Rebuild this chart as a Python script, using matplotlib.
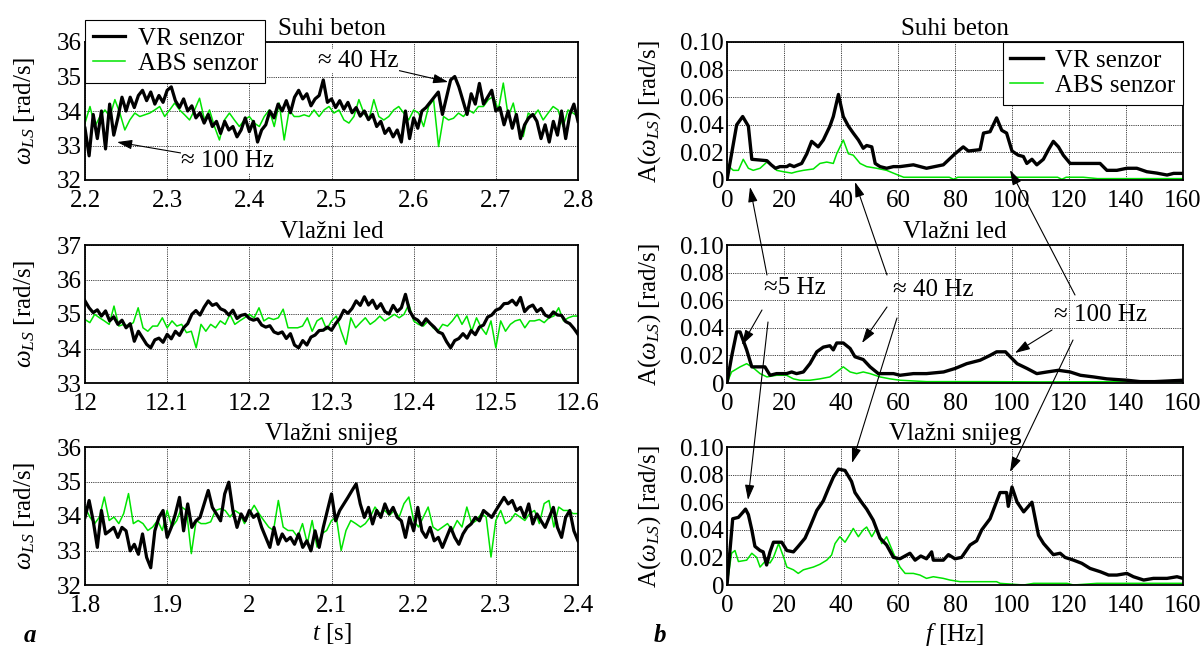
import numpy as np
import matplotlib
matplotlib.use("Agg")
import matplotlib.pyplot as plt
from matplotlib.patches import FancyArrowPatch
from matplotlib.ticker import FuncFormatter

# ---- time signals (omega_LS, rad/s), VR sampled every 5 ms over 0.6 s ----
vr_beton = [33.5, 32.7, 33.9, 33.2, 34.0, 32.9, 34.2, 33.3, 33.8, 34.4,
            34.0, 34.4, 34.1, 34.45, 34.6, 34.3, 34.55, 34.2, 34.45, 34.25,
            34.6, 34.7, 34.3, 34.1, 34.35, 34.0, 34.15, 33.8, 33.95, 33.65,
            33.9, 33.55, 33.7, 33.35, 33.7, 33.45, 33.55, 33.25, 33.45, 33.8,
            33.4, 33.7, 33.1, 33.45, 33.6, 34.0, 33.8, 34.2, 34.0, 34.3,
            33.95, 34.4, 34.6, 34.35, 34.5, 34.15, 34.35, 34.45, 34.9, 34.25,
            34.35, 34.1, 34.3, 34.05, 34.25, 33.95, 34.1, 33.85, 34.0, 33.75,
            33.9, 33.55, 33.7, 33.35, 33.5, 33.25, 33.45, 33.1, 34.0, 33.2,
            33.8, 33.5, 34.0, 34.1, 34.25, 34.4, 34.55, 33.9, 34.4, 34.9,
            35.0, 34.7, 34.3, 33.9, 34.5, 34.2, 34.8, 34.2, 34.4, 34.6,
            34.0, 34.1, 33.6, 34.0, 33.5, 33.9, 33.2, 33.6, 33.8, 33.9,
            33.7, 33.2, 33.6, 33.1, 33.7, 33.3, 34.0, 33.2, 33.9, 34.2,
            33.7]
abs_beton = [33.65, 34.13, 33.55, 33.84, 34.03, 33.84, 34.33, 33.94, 33.45, 33.74,
             33.94, 33.84, 33.89, 33.94, 34.03, 34.13, 33.84, 34.03, 34.23, 34.03,
             33.89, 33.74, 34.03, 34.37, 33.74, 34.03, 33.55, 33.16, 33.74, 33.94,
             33.74, 33.55, 33.74, 33.84, 33.65, 33.55, 33.84, 34.03, 33.55, 34.23,
             33.16, 34.03, 33.84, 33.84, 33.89, 33.84, 34.03, 33.84, 34.03, 34.13,
             33.94, 34.03, 33.74, 33.65, 33.84, 34.33, 33.94, 33.74, 34.33, 33.84,
             33.74, 33.84, 34.03, 34.13, 33.94, 33.74, 34.03, 33.94, 33.55, 34.13,
             34.33, 32.97, 33.84, 33.74, 33.79, 33.94, 33.84, 34.03, 33.94, 34.13,
             34.13, 34.33, 34.42, 34.03, 34.81, 33.84, 34.23, 33.55, 33.26, 33.94,
             33.84, 34.03, 33.74, 33.94, 34.13, 34.03, 33.55, 34.03, 33.94, 33.84]

vr_led = [35.38, 35.18, 35.04, 35.12, 34.94, 35.09, 34.8, 34.92, 34.7, 34.82,
          34.6, 34.72, 34.21, 34.5, 34.31, 34.12, 34.02, 34.25, 34.3, 34.18,
          34.41, 34.28, 34.5, 34.38, 34.6, 34.72, 34.99, 35.1, 34.97, 35.2,
          35.38, 35.25, 35.3, 35.15, 35.1, 34.97, 35.11, 34.87, 34.96, 34.99,
          34.87, 34.82, 34.86, 34.68, 34.62, 34.66, 34.48, 34.43, 34.48, 34.29,
          34.43, 34.1, 34.02, 34.23, 34.1, 34.33, 34.39, 34.52, 34.53, 34.62,
          34.53, 34.72, 34.87, 35.11, 35.02, 35.16, 35.38, 35.25, 35.5, 35.26,
          35.4, 35.16, 35.3, 35.07, 35.0, 35.25, 35.07, 35.18, 35.57, 35.09,
          34.89, 34.82, 34.68, 34.86, 34.73, 34.62, 34.48, 34.43, 34.2, 34.02,
          34.23, 34.29, 34.43, 34.3, 34.52, 34.4, 34.62, 34.68, 34.91, 34.97,
          35.11, 35.16, 35.3, 35.31, 35.4, 35.26, 35.48, 35.07, 35.2, 35.26,
          35.07, 35.16, 34.97, 34.91, 35.06, 34.97, 34.96, 34.78, 34.72, 34.58,
          34.41]
abs_led = [34.84, 34.75, 34.99, 34.89, 34.8, 34.7, 35.23, 34.65, 34.7, 34.65,
           34.75, 35.18, 34.6, 34.5, 34.65, 34.65, 34.89, 34.6, 34.8, 34.65,
           34.7, 34.46, 34.5, 34.02, 34.7, 34.5, 34.7, 34.6, 34.8, 34.7,
           34.99, 34.7, 34.8, 34.89, 34.99, 34.89, 35.18, 34.8, 34.89, 34.84,
           34.89, 35.14, 34.6, 34.6, 34.6, 34.65, 34.89, 34.5, 34.8, 34.89,
           34.55, 34.8, 34.94, 34.5, 34.12, 34.89, 34.6, 34.75, 34.89, 34.7,
           34.8, 34.94, 34.8, 34.89, 34.99, 34.89, 34.99, 35.28, 34.8, 34.7,
           34.65, 34.8, 34.6, 34.5, 34.7, 34.65, 34.8, 34.99, 34.7, 34.94,
           34.5, 34.89, 34.6, 34.41, 34.8, 34.02, 34.8, 34.5, 34.7, 34.8,
           34.84, 34.6, 34.8, 34.8, 34.84, 34.75, 34.89, 34.94, 35.18, 34.8,
           34.89, 34.94, 34.94]

vr_snijeg = [33.96, 34.45, 33.86, 33.09, 34.16, 33.48, 33.57, 33.67, 33.38, 33.67,
             33.57, 32.99, 33.18, 32.89, 33.48, 32.8, 32.5, 33.57, 33.96, 34.16,
             33.38, 33.67, 34.06, 34.54, 33.57, 34.35, 33.67, 33.86, 33.96, 34.35,
             34.74, 34.25, 34.06, 33.86, 34.64, 34.98, 34.16, 33.67, 34.06, 33.86,
             34.16, 33.96, 34.06, 33.67, 33.38, 33.09, 33.67, 33.18, 33.48, 33.28,
             33.38, 33.18, 33.48, 33.09, 33.28, 32.99, 33.57, 33.09, 33.67, 34.16,
             34.64, 33.86, 34.16, 34.35, 34.54, 34.74, 34.93, 34.35, 33.96, 34.25,
             33.77, 34.16, 33.96, 34.35, 34.06, 34.25, 33.96, 33.86, 33.38, 33.96,
             33.57, 34.25, 33.57, 33.38, 33.67, 33.28, 33.38, 33.09, 33.38, 33.67,
             33.38, 33.18, 33.48, 33.67, 33.77, 33.96, 33.86, 34.16, 34.06, 33.96,
             34.16, 34.35, 34.54, 34.35, 34.45, 34.16, 34.25, 33.96, 34.35, 33.77,
             34.06, 33.86, 33.67, 33.96, 34.25, 33.67, 33.38, 33.96, 34.16, 33.57,
             33.28]
abs_snijeg = [34.26, 33.97, 33.78, 33.97, 34.55, 33.87, 33.97, 33.78, 34.07, 34.65,
              33.78, 33.87, 33.78, 33.58, 33.68, 33.87, 33.58, 34.16, 33.68, 33.87,
              34.26, 34.16, 32.91, 33.87, 33.78, 33.78, 33.83, 34.16, 34.21, 34.16,
              33.97, 34.16, 34.07, 33.78, 34.07, 34.31, 34.07, 33.87, 33.68, 33.58,
              34.45, 33.68, 33.58, 33.58, 33.39, 33.78, 33.2, 33.87, 33.1, 33.49,
              33.58, 33.87, 33.97, 33.0, 33.58, 33.87, 33.78, 33.68, 33.78, 33.97,
              34.26, 34.07, 34.16, 34.02, 34.16, 33.97, 34.36, 34.55, 33.87, 33.68,
              33.97, 34.26, 33.68, 33.58, 33.68, 33.78, 33.58, 33.87, 33.68, 34.26,
              33.78, 33.87, 34.07, 33.97, 32.81, 33.87, 34.16, 33.78, 33.87, 34.07,
              33.97, 33.87, 34.07, 34.16, 33.78, 34.36, 34.45, 33.68, 34.26, 34.16,
              34.16, 34.07, 34.07]

# ---- amplitude spectra A(omega_LS) [rad/s] vs f [Hz] ----
f_vr_beton = [0, 3.4, 5.5, 7.5, 8.7, 14, 15.5, 17, 18.6, 21, 22, 23.5, 25, 26.2, 28,
              29.7, 32, 33.8, 36.1, 37.3, 39.1, 40.8, 42.6, 44.3, 46.1, 47.8, 49, 50.8,
              52, 53.7, 56, 58.4, 60.7, 65.4, 70, 75.9, 80, 82.9, 84.7, 88.8, 90, 92.3,
              94.6, 96.4, 98.1, 100, 102.2, 104, 105.2, 107, 108.7, 111, 112.8, 114.5,
              116.3, 118, 120.4, 122.7, 125, 127.4, 130.9, 133.3, 136.8, 140.3, 143.8,
              147.3, 150.8, 154.4, 156.7, 160]
a_vr_beton = [0, 0.040, 0.046, 0.039, 0.015, 0.014, 0.011, 0.0085, 0.0097, 0.0097,
              0.011, 0.0097, 0.011, 0.012, 0.019, 0.028, 0.024, 0.029, 0.039, 0.046,
              0.062, 0.046, 0.039, 0.034, 0.029, 0.023, 0.025, 0.024, 0.012, 0.0097,
              0.0085, 0.0097, 0.0097, 0.011, 0.0085, 0.011, 0.019, 0.024, 0.021, 0.022,
              0.034, 0.035, 0.045, 0.036, 0.034, 0.021, 0.018, 0.017, 0.012, 0.015,
              0.011, 0.015, 0.022, 0.028, 0.024, 0.018, 0.012, 0.012, 0.012, 0.012,
              0.012, 0.007, 0.007, 0.0085, 0.0085, 0.006, 0.005, 0.0036, 0.0048, 0.0048]
f_abs_beton = [0, 2.2, 4, 5.7, 7.5, 9.2, 11.6, 14, 15.7, 17.4, 19.8, 22.7, 24.4, 26.8,
               30.3, 32.6, 35, 37.3, 38.5, 40.8, 42.6, 44.3, 46.7, 49, 52.5, 56, 60, 62,
               70, 78, 79.5, 81, 90, 100, 110, 116, 117.5, 119, 125, 130, 135, 145, 160]
a_abs_beton = [0.011, 0.007, 0.007, 0.015, 0.0085, 0.007, 0.0085, 0.013, 0.011, 0.007,
               0.006, 0.005, 0.006, 0.007, 0.008, 0.012, 0.013, 0.012, 0.019, 0.029,
               0.019, 0.018, 0.012, 0.0097, 0.0085, 0.007, 0.0036, 0.002, 0.002, 0.002,
               0.0005, 0.002, 0.002, 0.002, 0.002, 0.002, 0.0005, 0.002, 0.002, 0.001,
               0.001, 0.001, 0.001]

f_vr_led = [0, 1.6, 3.4, 4.6, 6.9, 8.7, 11.6, 13.3, 15.1, 17.4, 20.9, 22.7, 24.4, 26.8,
            29.1, 31.5, 33.8, 36.1, 37.3, 38.5, 40.8, 43.2, 44.9, 47.8, 50.2, 53.1, 56,
            58.4, 60.7, 65.4, 70, 76, 80, 84.1, 88.8, 92.3, 94.6, 97.7, 99.4, 101.8,
            105.3, 108.7, 112.3, 116.3, 120.4, 124, 128.6, 133.3, 140.3, 145, 150, 155, 160]
a_vr_led = [0, 0.019, 0.037, 0.037, 0.024, 0.0117, 0.0117, 0.0117, 0.0056, 0.0068,
            0.0068, 0.008, 0.0068, 0.008, 0.014, 0.0226, 0.026, 0.027, 0.024, 0.029,
            0.029, 0.025, 0.019, 0.017, 0.0117, 0.0068, 0.0068, 0.0068, 0.0056, 0.0068,
            0.0068, 0.008, 0.0105, 0.014, 0.0165, 0.020, 0.0226, 0.0226, 0.019, 0.014,
            0.0105, 0.0068, 0.008, 0.0092, 0.008, 0.0056, 0.0044, 0.003, 0.002, 0.001,
            0.001, 0.0015, 0.002]
f_abs_led = [0, 1.6, 4.6, 6.9, 9.2, 11.6, 14, 17.4, 20.9, 23.3, 25.6, 29.1, 32.6, 36.1,
             38.5, 40.8, 43.2, 45.5, 47.8, 50.2, 53.7, 57.2, 60.7, 70, 90, 110, 140, 160]
a_abs_led = [0, 0.008, 0.0117, 0.014, 0.011, 0.0068, 0.0044, 0.0056, 0.0056, 0.003,
             0.002, 0.002, 0.003, 0.0044, 0.008, 0.0117, 0.008, 0.0068, 0.008, 0.0068,
             0.0044, 0.003, 0.002, 0.001, 0.001, 0.0008, 0.001, 0.001]

f_vr_snijeg = [0, 2, 4, 5.7, 6.5, 7.5, 8.7, 9.8, 11.6, 12.7, 13.9, 15.1, 16.3, 19.2, 21,
               23.3, 25, 27.4, 29.1, 31.5, 33.8, 35.6, 37.3, 39.1, 41.4, 43.7, 44.9, 47.2,
               49, 51.3, 53.7, 56, 58.4, 60.7, 64.2, 66, 68, 70, 71.8, 72.4, 75.9, 77.7,
               80, 82.3, 85.3, 87.6, 89.4, 92.3, 95.8, 98.1, 98.7, 100, 101.8, 104.1, 107,
               109.3, 111.1, 114.5, 116.9, 118.6, 121.6, 124.5, 127.4, 131, 133.9, 136.8,
               140.3, 142.6, 146.2, 149.6, 154.4, 157.9, 160]
a_vr_snijeg = [0, 0.048, 0.049, 0.053, 0.055, 0.051, 0.04, 0.028, 0.025, 0.024,
               0.0145, 0.024, 0.031, 0.031, 0.025, 0.024, 0.028, 0.034, 0.042, 0.054,
               0.061, 0.070, 0.078, 0.084, 0.083, 0.075, 0.067, 0.060, 0.055, 0.047,
               0.034, 0.029, 0.020, 0.019, 0.023, 0.018, 0.021, 0.019, 0.024, 0.018,
               0.018, 0.022, 0.019, 0.020, 0.029, 0.032, 0.040, 0.048, 0.067, 0.067,
               0.057, 0.071, 0.060, 0.053, 0.060, 0.036, 0.030, 0.022, 0.023, 0.020,
               0.018, 0.0157, 0.012, 0.0096, 0.0072, 0.0072, 0.0084, 0.006, 0.0036,
               0.0048, 0.0048, 0.006, 0.0048]
f_abs_snijeg = [0, 1.6, 2.8, 4, 6.9, 8.7, 10.4, 11.6, 13.3, 15.1, 16.3, 18.1, 19.9, 21,
                23.3, 25, 26.8, 30.3, 32.6, 35, 36.7, 37.9, 39.6, 41.4, 43.2, 44.3, 46.1,
                47.8, 49, 50.8, 52.5, 54.3, 56, 58.4, 60.7, 62.5, 65.4, 67.7, 70, 72.4,
                75.9, 78.2, 81.8, 94.6, 95.8, 104.1, 107.6, 119.3, 121.6, 129.8, 142.6, 160]
a_abs_snijeg = [0, 0.023, 0.025, 0.017, 0.018, 0.023, 0.02, 0.013, 0.017, 0.016,
                0.02, 0.030, 0.02, 0.013, 0.011, 0.0084, 0.011, 0.013, 0.015, 0.018,
                0.0217, 0.030, 0.035, 0.031, 0.037, 0.041, 0.035, 0.040, 0.042, 0.035,
                0.041, 0.030, 0.035, 0.023, 0.013, 0.0084, 0.0084, 0.0072, 0.0048, 0.006,
                0.0048, 0.0036, 0.0024, 0.0024, 0.0012, 0.0, 0.0012, 0.0012, 0.0, 0.0012,
                0.0012, 0.0012]

titles = ["Suhi beton", "Vlažni led", "Vlažni snijeg"]
t_starts = [2.2, 12.0, 1.8]
t_ticks = [[2.2, 2.3, 2.4, 2.5, 2.6, 2.7, 2.8],
           [12, 12.1, 12.2, 12.3, 12.4, 12.5, 12.6],
           [1.8, 1.9, 2, 2.1, 2.2, 2.3, 2.4]]
w_ylims = [(32, 36), (33, 37), (32, 36)]
f_ticks = [0, 20, 40, 60, 80, 100, 120, 140, 160]
a_ticks = [0, 0.02, 0.04, 0.06, 0.08, 0.10]

GREEN = "#00e400"
FS = 18

plt.rcParams["font.family"] = ["Liberation Serif", "DejaVu Serif"]
plt.rcParams["mathtext.fontset"] = "custom"
plt.rcParams["mathtext.rm"] = "Liberation Serif"
plt.rcParams["mathtext.it"] = "Liberation Serif:italic"

W, H = 1202, 647
fig = plt.figure(figsize=(W / 100, H / 100), dpi=100)


def add_ax(x0, y0, x1, y1):
    return fig.add_axes([x0 / W, 1 - y1 / H, (x1 - x0) / W, (y1 - y0) / H])


def style(ax):
    ax.grid(True, color="k", ls=(0, (1, 1.2)), lw=0.6)
    ax.tick_params(length=0, labelsize=FS)
    ax.tick_params(axis="x", pad=7)
    ax.tick_params(axis="y", pad=2)
    for s in ax.spines.values():
        s.set_linewidth(1.3)


rows = [(42, 180), (245, 383), (447, 585)]
vr_t = [vr_beton, vr_led, vr_snijeg]
abs_t = [abs_beton, abs_led, abs_snijeg]
spec = [(f_vr_beton, a_vr_beton, f_abs_beton, a_abs_beton),
        (f_vr_led, a_vr_led, f_abs_led, a_abs_led),
        (f_vr_snijeg, a_vr_snijeg, f_abs_snijeg, a_abs_snijeg)]

left_axes, right_axes = [], []
for i, (y0, y1) in enumerate(rows):
    # time domain
    ax = add_ax(85, y0, 578, y1)
    t0 = t_starts[i]
    ax.plot(np.linspace(t0, t0 + 0.6, len(abs_t[i])), abs_t[i], color=GREEN, lw=1.1,
            label="ABS senzor", zorder=2)
    ax.plot(np.linspace(t0, t0 + 0.6, len(vr_t[i])), vr_t[i], color="k", lw=2.3,
            label="VR senzor", zorder=3)
    ax.set_xlim(t0, t0 + 0.6)
    ax.set_ylim(*w_ylims[i])
    ax.set_xticks(t_ticks[i])
    ax.set_yticks(range(w_ylims[i][0], w_ylims[i][1] + 1))
    ax.xaxis.set_major_formatter(FuncFormatter(lambda v, _: "%g" % round(v, 2)))
    ax.set_ylabel(r"$\omega_{LS}$ [rad/s]", fontsize=FS)
    ax.yaxis.set_label_coords(-0.098, 0.5)
    ax.set_title(titles[i], fontsize=FS, pad=5)
    style(ax)
    left_axes.append(ax)

    # spectra
    bx = add_ax(727, y0, 1183, y1)
    fv, av, fa, aa = spec[i]
    bx.plot(fa, aa, color=GREEN, lw=1.1, label="ABS senzor", zorder=2)
    bx.plot(fv, av, color="k", lw=2.4, label="VR senzor", zorder=3)
    bx.set_xlim(0, 160)
    bx.set_ylim(0, 0.1)
    bx.set_xticks(f_ticks)
    bx.set_yticks(a_ticks)
    bx.yaxis.set_major_formatter(FuncFormatter(lambda v, _: "0" if v == 0 else "%.2f" % v))
    bx.set_ylabel(r"A($\omega_{LS}$) [rad/s]", fontsize=FS)
    bx.yaxis.set_label_coords(-0.14, 0.5)
    bx.set_title(titles[i], fontsize=FS, pad=5)
    style(bx)
    right_axes.append(bx)

leg_kw = dict(fontsize=FS, handlelength=1.3, handletextpad=0.5, labelspacing=0.1,
              borderpad=0.3, borderaxespad=0, fancybox=False, edgecolor="k",
              framealpha=1)
for ax, loc, anchor in [(left_axes[0], "upper left", (0, 1 + 22 / 138)),
                        (right_axes[0], "upper right", (1, 1))]:
    h, l = ax.get_legend_handles_labels()
    lg = ax.legend(h[::-1], l[::-1], loc=loc, bbox_to_anchor=anchor, **leg_kw)
    lg.get_frame().set_linewidth(0.8)
    lg.set_zorder(10)

left_axes[2].set_xlabel("$t$ [s]", fontsize=FS, labelpad=3)
right_axes[2].set_xlabel("$f$ [Hz]", fontsize=FS, labelpad=3)

fig.text(30 / W, 1 - 635 / H, "a", fontsize=FS, fontweight="bold", fontstyle="italic",
         ha="center", va="center")
fig.text(660 / W, 1 - 635 / H, "b", fontsize=FS, fontweight="bold", fontstyle="italic",
         ha="center", va="center")

arrow_kw = dict(arrowstyle="-|>,head_length=0.7,head_width=0.22", color="k", lw=0.8,
                shrinkA=0, shrinkB=0)
box = dict(facecolor="white", edgecolor="none", pad=0.5)

# annotations in the time-domain panel
ax = left_axes[0]
ax.annotate("≈ 100 Hz", xy=(2.239, 33.1), xytext=(2.374, 32.55), fontsize=FS,
            ha="center", va="center", bbox=box,
            arrowprops=dict(mutation_scale=13, **arrow_kw))
ax.annotate("≈ 40 Hz", xy=(2.642, 34.84), xytext=(2.532, 35.45), fontsize=FS,
            ha="center", va="center", bbox=box,
            arrowprops=dict(mutation_scale=13, **arrow_kw))


def fig_arrow(x0, y0, x1, y1):
    a = FancyArrowPatch((x0 / W, 1 - y0 / H), (x1 / W, 1 - y1 / H),
                        transform=fig.transFigure, mutation_scale=13, zorder=20,
                        **arrow_kw)
    fig.add_artist(a)


fig.text(795 / W, 1 - 288 / H, "≈5 Hz", fontsize=FS, ha="center", va="center",
         bbox=box, zorder=21)
fig.text(933 / W, 1 - 290 / H, "≈ 40 Hz", fontsize=FS, ha="center", va="center",
         zorder=21)
fig.text(1100 / W, 1 - 315 / H, "≈ 100 Hz", fontsize=FS, ha="center", va="center",
         zorder=21)

for seg in [(767, 275, 750, 187), (762, 310, 742, 345), (768, 322, 748, 500),
            (887, 275, 855, 182), (887, 307, 862, 343), (897, 318, 852, 463),
            (1075, 295, 1010, 170), (1052, 330, 1015, 353), (1073, 340, 1010, 472)]:
    fig_arrow(*seg)

fig.savefig("out.png", dpi=100)
